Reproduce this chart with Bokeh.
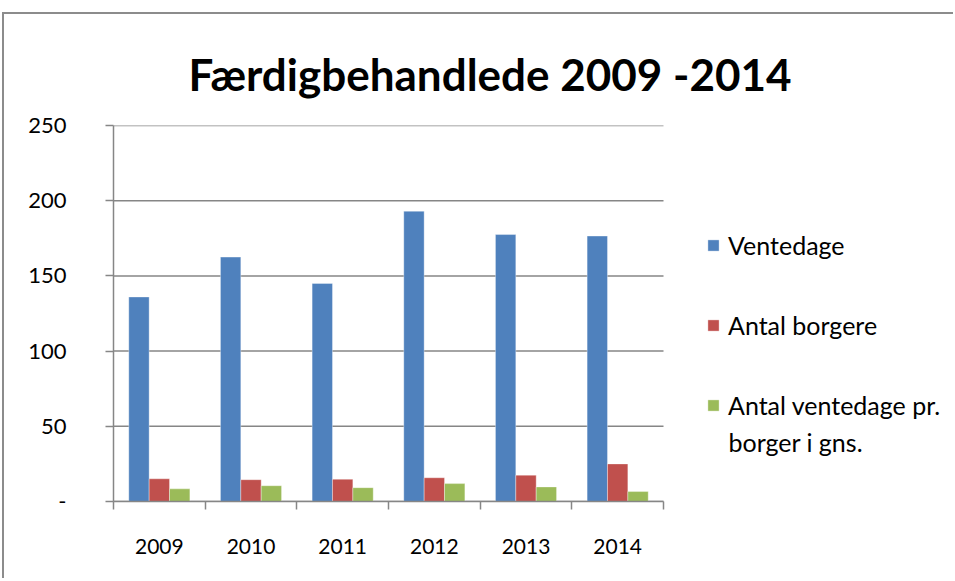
from bokeh.plotting import figure
from bokeh.models import FixedTicker, Range1d, Legend, LegendItem, Label
from bokeh.embed import file_html
from bokeh.resources import INLINE

years = ["2009", "2010", "2011", "2012", "2013", "2014"]
ventedage = [136, 162.5, 145, 193, 177.5, 176.5]
antal_borgere = [15.1, 14.5, 14.8, 15.8, 17.5, 25]
ventedage_pr_borger = [8.4, 10.5, 9.2, 11.9, 9.7, 6.6]
y_ticks = [0, 50, 100, 150, 200, 250]

series_names = ["Ventedage", "Antal borgere", "Antal ventedage pr."]
extra_line = "borger i gns."
colors = ["#4F81BD", "#C0504D", "#9BBB59"]

FONT = "Lato"
GRID = "#868686"

n = len(years)
FRAME_W = 842          # frame extends to the right edge (legend lives inside it)
CAT_PX = 550 / n       # pixel width of one category
X_END = FRAME_W / CAT_PX
Y_MAX = 250
PX_PER_Y = 376 / Y_MAX

p = figure(width=951, height=566, output_backend="svg", toolbar_location=None,
           x_range=Range1d(0, X_END), y_range=Range1d(0, Y_MAX),
           min_border_left=109, min_border_right=0, min_border_top=111,
           min_border_bottom=79)
p.outline_line_color = None
p.background_fill_color = "white"
p.border_fill_color = "white"

p.title.text = "Færdigbehandlede 2009 -2014"
p.title.text_font = FONT
p.title.text_font_size = "44px"
p.title.text_font_style = "bold"
p.title.text_color = "black"
p.title.align = "left"
p.title.offset = 75
p.title.standoff = 52

# gridlines only across the category area
p.xgrid.grid_line_color = None
p.ygrid.grid_line_color = None
p.segment(x0=[0] * len(y_ticks), x1=[n] * len(y_ticks), y0=y_ticks, y1=y_ticks,
          line_color=GRID, line_width=1.5, level="underlay")

w = 0.2222
centers = [i + 0.5 for i in range(n)]
renderers = []
for k, vals in enumerate([ventedage, antal_borgere, ventedage_pr_borger]):
    xs = [c + (k - 1) * w for c in centers]
    r = p.vbar(x=xs, top=vals, bottom=0, width=w, fill_color=colors[k],
               line_color="white", line_alpha=0.35, line_width=1)
    renderers.append(r)

# x axis
xa = p.xaxis[0]
xa.bounds = (0, n)
xa.ticker = FixedTicker(ticks=centers, minor_ticks=list(range(n + 1)))
xa.major_label_overrides = {c: y for c, y in zip(centers, years)}
xa.major_tick_out = 0
xa.major_tick_in = 0
xa.minor_tick_out = 8
xa.minor_tick_in = 0
xa.minor_tick_line_color = GRID
xa.axis_line_color = GRID
xa.axis_line_width = 1.5
xa.minor_tick_line_width = 1.5
xa.major_label_text_font = FONT
xa.major_label_text_font_size = "21px"
xa.major_label_text_color = "black"
xa.major_label_standoff = 29

ya = p.yaxis[0]
ya.ticker = FixedTicker(ticks=y_ticks)
ya.major_label_overrides = {0: "-"}
ya.major_tick_out = 8
ya.major_tick_in = 0
ya.minor_tick_out = 0
ya.minor_tick_in = 0
ya.major_tick_line_color = GRID
ya.major_tick_line_width = 1.5
ya.axis_line_color = GRID
ya.axis_line_width = 1.5
ya.major_label_text_font = FONT
ya.major_label_text_font_size = "22px"
ya.major_label_text_color = "black"
ya.major_label_standoff = 39

legend = Legend(items=[LegendItem(label=nm, renderers=[r]) for nm, r in zip(series_names, renderers)],
                location=(593, 81))
legend.border_line_color = None
legend.background_fill_alpha = 0
legend.label_text_font = FONT
legend.label_text_font_size = "25px"
legend.label_text_color = "black"
legend.glyph_width = 14
legend.glyph_height = 14
legend.label_height = 30
legend.label_standoff = 8
legend.spacing = 50
legend.margin = 0
legend.padding = 0
p.add_layout(legend)

p.add_layout(Label(x=615 / CAT_PX, y=60 / PX_PER_Y, text=extra_line,
                   text_font=FONT, text_font_size="25px", text_color="black",
                   text_baseline="middle", text_align="left"))

p.styles = {"border-top": "2px solid #8c8c8c", "border-left": "2px solid #8c8c8c",
            "margin-top": "12px", "margin-left": "2px"}

open("out.html", "w").write(file_html(p, INLINE))
